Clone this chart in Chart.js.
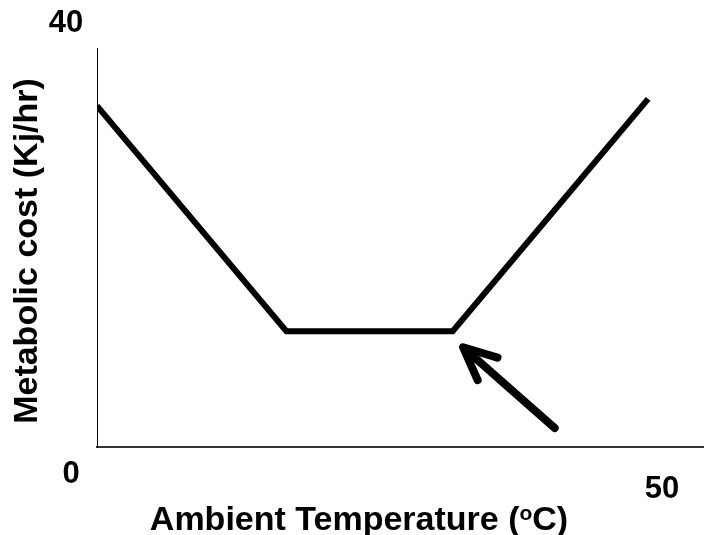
<!DOCTYPE html>
<html>
<head>
<meta charset="utf-8">
<script src="https://cdn.jsdelivr.net/npm/chart.js@4.4.0/dist/chart.umd.min.js"></script>
<style>
  body { margin: 0; background: #fff; }
  #wrap { width: 704px; height: 535px; }
</style>
</head>
<body>
<div id="wrap"><canvas id="chart" width="704" height="535"></canvas></div>
<script>
// temperature (oC) vs metabolic cost (Kj/hr)
const temps = [0, 15.6, 29.3, 45.4];
const costs = [34.2, 11.6, 11.6, 34.9];

// arrow pointing at the upper end of the flat part
const arrowFrom = [37.7, 1.9];
const arrowTo = [30.15, 10.0];

const xMin = 0, xMax = 50;
const yMin = 0, yMax = 40;

const xTitle = 'Ambient Temperature (';
const yTitle = 'Metabolic cost (Kj/hr)';

const FONT = '"Liberation Sans", Arial, sans-serif';

const textPlugin = {
    id: 'texts',
    afterDraw(chart) {
        const ctx = chart.ctx;
        const xs = chart.scales.x;
        const ys = chart.scales.y;

        // arrow
        const x1 = xs.getPixelForValue(arrowFrom[0]), y1 = ys.getPixelForValue(arrowFrom[1]);
        const x2 = xs.getPixelForValue(arrowTo[0]), y2 = ys.getPixelForValue(arrowTo[1]);
        const ang = Math.atan2(y2 - y1, x2 - x1);
        const head = 36;
        ctx.save();
        ctx.strokeStyle = '#000';
        ctx.lineWidth = 8;
        ctx.lineCap = 'round';
        ctx.lineJoin = 'round';
        ctx.beginPath();
        ctx.moveTo(x1, y1);
        ctx.lineTo(x2 - Math.cos(ang) * 6, y2 - Math.sin(ang) * 6);
        ctx.stroke();
        ctx.beginPath();
        ctx.moveTo(x2 - head * Math.cos(ang - 0.43), y2 - head * Math.sin(ang - 0.43));
        ctx.lineTo(x2, y2);
        ctx.lineTo(x2 - head * Math.cos(ang + 0.43), y2 - head * Math.sin(ang + 0.43));
        ctx.stroke();
        ctx.restore();

        // number labels placed like text boxes
        ctx.save();
        ctx.fillStyle = '#000';
        ctx.font = 'bold 31px ' + FONT;
        ctx.textAlign = 'center';
        ctx.textBaseline = 'middle';
        ctx.fillText(String(yMax), xs.left - 31, ys.top - 25);
        ctx.fillText(String(xMin), xs.left - 26, ys.bottom + 27);
        ctx.fillText(String(xMax), 662, ys.bottom + 42);

        // x title with superscript o
        const big = 'bold 34px ' + FONT, small = 'bold 21px ' + FONT;
        ctx.font = big;
        const w1 = ctx.measureText(xTitle).width;
        ctx.font = small;
        const w2 = ctx.measureText('o').width;
        ctx.font = big;
        const w3 = ctx.measureText('C)').width;
        let tx = 359 - (w1 + w2 + w3) / 2;
        const ty = 521;
        ctx.textAlign = 'left';
        ctx.fillText(xTitle, tx, ty);
        tx += w1;
        ctx.font = small;
        ctx.fillText('o', tx, ty - 7);
        tx += w2;
        ctx.font = big;
        ctx.fillText('C)', tx, ty);

        // y title
        ctx.translate(28, 251);
        ctx.rotate(-Math.PI / 2);
        ctx.textAlign = 'center';
        ctx.font = 'bold 34px ' + FONT;
        ctx.fillText(yTitle, 0, 0);
        ctx.restore();
    }
};

new Chart(document.getElementById('chart'), {
    type: 'line',
    data: {
        datasets: [{
            data: temps.map((t, i) => ({ x: t, y: costs[i] })),
            borderColor: '#000',
            borderWidth: 6,
            borderJoinStyle: 'miter',
            borderCapStyle: 'butt',
            pointRadius: 0,
            tension: 0,
            fill: false
        }]
    },
    options: {
        responsive: false,
        animation: false,
        layout: { padding: { left: 97, top: 48, right: 0, bottom: 88 } },
        plugins: { legend: { display: false }, tooltip: { enabled: false } },
        scales: {
            x: {
                type: 'linear', min: xMin, max: xMax,
                ticks: { display: false },
                grid: { display: false, drawTicks: false },
                border: { display: true, color: '#333', width: 2 }
            },
            y: {
                min: yMin, max: yMax,
                ticks: { display: false },
                grid: { display: false, drawTicks: false },
                border: { display: true, color: '#000', width: 1 }
            }
        }
    },
    plugins: [textPlugin]
});
</script>
</body>
</html>
